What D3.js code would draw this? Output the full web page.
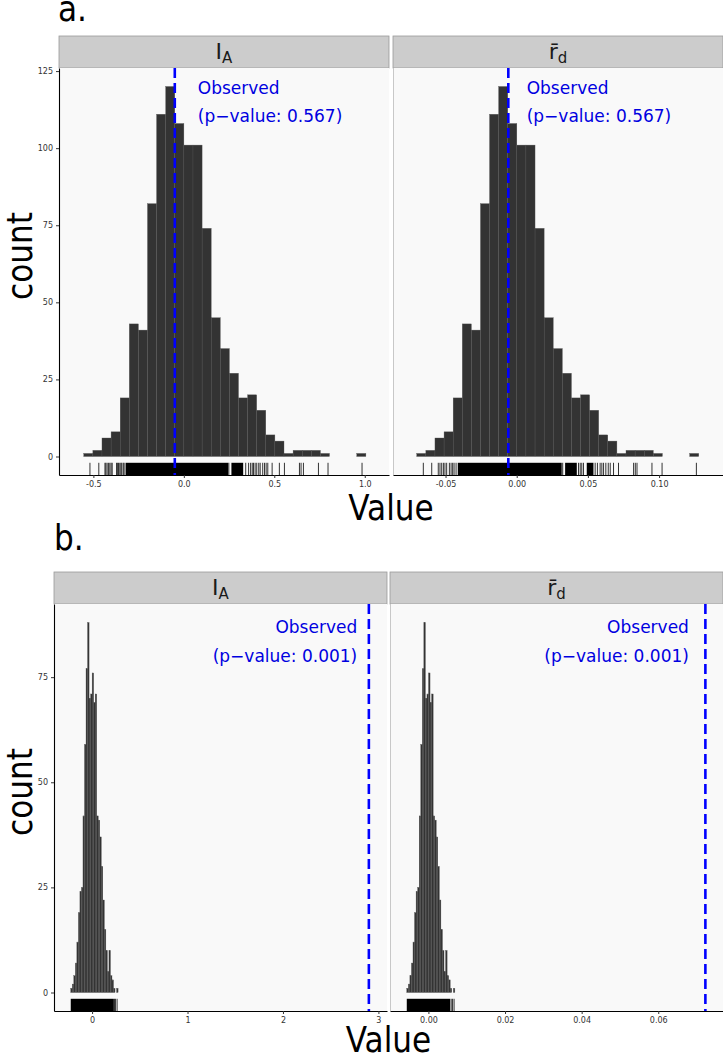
<!DOCTYPE html>
<html><head><meta charset="utf-8">
<script src="https://cdn.jsdelivr.net/npm/d3@7"></script>
<style>body{margin:0;background:#fff}text{font-family:"DejaVu Sans",sans-serif}</style>
</head><body><script>
// ---------------- data ----------------
const facetNames = ["IA", "rd"];
const countTicksA = [0, 25, 50, 75, 100, 125];
const countTicksB = [0, 25, 50, 75];

// panel a (p = 0.567)
const countsA_IA = [1,2,6,8,19,43,41,82,111,120,108,101,101,74,45,35,27,19,20,15,7,5,1,2,2,2,1,0,0,0,1];
const countsA_rd = [1,2,6,8,19,43,41,82,111,120,108,101,101,74,45,35,27,19,20,15,7,5,1,2,2,2,1,0,0,0,1];
const binsA_IA = [-0.553, 0.0503];   // first bin edge, bin width
const binsA_rd = [-0.0702, 0.00639];
const observedA = [-0.05, -0.0059];
const pValueA = "0.567";
const xTicksA_IA = [-0.5, 0.0, 0.5, 1.0];
const xLabelsA_IA = ["-0.5", "0.0", "0.5", "1.0"];
const xTicksA_rd = [-0.05, 0.0, 0.05, 0.10];
const xLabelsA_rd = ["-0.05", "0.00", "0.05", "0.10"];
const rugTicksA_IA = [-0.519,-0.470,-0.436,-0.431,-0.424,-0.416,-0.409,-0.402,-0.396,-0.372,-0.366,-0.361,-0.354,-0.348,-0.343,-0.335,-0.330,
  0.2486,0.342,0.358,0.369,0.378,0.385,0.394,0.403,0.414,0.422,0.436,0.446,0.455,0.464,0.488,0.528,0.556,0.639,0.648,0.661,0.744,0.797,0.985];
const rugRangesA_IA = [[-0.322, 0.245], [0.263, 0.328]];
const rugTicksA_rd = [-0.0656,-0.0597,-0.0551,-0.0539,-0.0527,-0.0515,-0.0504,-0.0492,-0.0473,-0.0461,-0.0450,-0.0440,-0.0426,
  0.0323,0.0434,0.0446,0.0457,0.0469,0.0551,0.0567,0.0586,0.0598,0.0610,0.0626,0.0643,0.0657,0.0680,0.0715,0.0821,0.0833,0.0845,0.0950,0.1021,0.1262];
const rugRangesA_rd = [[-0.0414, 0.0316], [0.0340, 0.0422], [0.0492, 0.0539]];

// panel b (p = 0.001)
const countsB_IA = [1,2,4,7,12,19,24,25,42,59,77,88,70,71,76,69,71,42,41,37,30,22,15,10,5,10,4,3,1,0,1];
const countsB_rd = [1,2,4,7,12,19,24,25,42,59,77,88,70,71,76,69,71,42,41,37,30,22,15,10,5,10,4,3,1,0,1];
const binsB_IA = [-0.2235, 0.016];
const binsB_rd = [-0.00565, 0.000405];
const observedB = [2.90, 0.0723];
const pValueB = "0.001";
const xTicksB_IA = [0, 1, 2, 3];
const xLabelsB_IA = ["0", "1", "2", "3"];
const xTicksB_rd = [0, 0.02, 0.04, 0.06];
const xLabelsB_rd = ["0.00", "0.02", "0.04", "0.06"];
const rugTicksB_IA = [0.235, 0.245, 0.262];
const rugRangesB_IA = [[-0.2235, 0.228]];
const rugTicksB_rd = [0.00594, 0.0063, 0.0067];
const rugRangesB_rd = [[-0.00565, 0.00568]];

// ---------------- layout ----------------
const W = 723, H = 1059;
const svg = d3.select("body").append("svg").attr("width", W).attr("height", H);
const BAR = "#333333", BLUE = "#0000ff";
const BIG = 35, SQ = 0.89;   // large title font and horizontal squeeze

const blocks = [
  { tag: "a.", tagX: 58, tagY: 21, stripTop: 36, top: 68, bottom: 475, yDomain: [-6, 126], yTicks: countTicksA,
    titleY: 520, countY: 256, pval: pValueA, anchor: "start", textY: [94, 122],
    panels: [
      { x0: 59, x1: 389, dom: [-0.69, 1.134], counts: countsA_IA, bins: binsA_IA, obs: observedA[0], ticks: xTicksA_IA, labels: xLabelsA_IA, rugT: rugTicksA_IA, rugR: rugRangesA_IA, textX: 0.077 },
      { x0: 393, x1: 723, dom: [-0.0869, 0.1449], counts: countsA_rd, bins: binsA_rd, obs: observedA[1], ticks: xTicksA_rd, labels: xLabelsA_rd, rugT: rugTicksA_rd, rugR: rugRangesA_rd, textX: 0.0070 }
    ]},
  { tag: "b.", tagX: 54, tagY: 550, stripTop: 572, top: 604, bottom: 1011, yDomain: [-4.4, 92.4], yTicks: countTicksB,
    titleY: 1052, countY: 792, pval: pValueB, anchor: "end", textY: [633, 662],
    panels: [
      { x0: 54, x1: 387, dom: [-0.399, 3.09], counts: countsB_IA, bins: binsB_IA, obs: observedB[0], ticks: xTicksB_IA, labels: xLabelsB_IA, rugT: rugTicksB_IA, rugR: rugRangesB_IA, textX: 2.778 },
      { x0: 390, x1: 723, dom: [-0.01003, 0.0769], counts: countsB_rd, bins: binsB_rd, obs: observedB[1], ticks: xTicksB_rd, labels: xLabelsB_rd, rugT: rugTicksB_rd, rugR: rugRangesB_rd, textX: 0.0680 }
    ]}
];

function stripLabel(g, name, cx, y) {
  const t = g.append("text").attr("x", cx).attr("y", y).attr("text-anchor", "middle")
    .attr("font-size", 22).attr("fill", "#1a1a1a");
  if (name === "IA") {
    t.append("tspan").text("I");
    t.append("tspan").attr("font-size", 15).attr("dy", 4).text("A");
  } else {
    t.append("tspan").text("r\u0304");
    t.append("tspan").attr("font-size", 15).attr("dy", 4).text("d");
  }
}

function bigText(x, y, str, anchor, rotate) {
  const tr = `translate(${x},${y})` + (rotate ? " rotate(-90)" : "") + ` scale(${SQ},1)`;
  svg.append("text").attr("transform", tr).attr("text-anchor", anchor)
    .attr("font-size", BIG).attr("fill", "#000").text(str);
}

blocks.forEach(B => {
  const y = d3.scaleLinear().domain(B.yDomain).range([B.bottom, B.top]);
  const rugLen = (B.bottom - B.top) * 0.03;

  bigText(B.tagX, B.tagY, B.tag, "start", false);

  B.panels.forEach((P, pi) => {
    const x = d3.scaleLinear().domain(P.dom).range([P.x0, P.x1]);
    const g = svg.append("g");
    // strip
    g.append("rect").attr("x", P.x0).attr("y", B.stripTop).attr("width", P.x1 - P.x0).attr("height", B.top - B.stripTop)
      .attr("fill", "#cccccc").attr("stroke", "#9a9a9a").attr("stroke-width", 0.8);
    stripLabel(g, facetNames[pi], (P.x0 + P.x1) / 2, B.top - 9);
    // panel background
    g.append("rect").attr("x", P.x0).attr("y", B.top).attr("width", P.x1 - P.x0).attr("height", B.bottom - B.top)
      .attr("fill", "#f9f9f9");
    // bars
    g.selectAll("rect.bar").data(P.counts.map((c, i) => ({ c, i })).filter(d => d.c > 0)).join("rect")
      .attr("class", "bar")
      .attr("x", d => x(P.bins[0] + d.i * P.bins[1]))
      .attr("width", d => x(P.bins[0] + (d.i + 1) * P.bins[1]) - x(P.bins[0] + d.i * P.bins[1]))
      .attr("y", d => y(d.c)).attr("height", d => y(0) - y(d.c))
      .attr("fill", BAR).attr("stroke", "#555555").attr("stroke-width", 0.35);
    // rug
    g.selectAll("rect.rug").data(P.rugR).join("rect").attr("class", "rug")
      .attr("x", d => x(d[0])).attr("width", d => x(d[1]) - x(d[0]))
      .attr("y", B.bottom - rugLen).attr("height", rugLen).attr("fill", "#000");
    g.selectAll("line.rug").data(P.rugT).join("line").attr("class", "rug")
      .attr("x1", d => x(d)).attr("x2", d => x(d))
      .attr("y1", B.bottom - rugLen).attr("y2", B.bottom)
      .attr("stroke", "#000").attr("stroke-width", 0.8);
    // observed line
    g.append("line").attr("x1", x(P.obs)).attr("x2", x(P.obs)).attr("y1", B.top).attr("y2", B.bottom)
      .attr("stroke", BLUE).attr("stroke-width", 2.6).attr("stroke-dasharray", "10,5");
    // annotation
    const tx = x(P.textX);
    g.append("text").attr("x", tx).attr("y", B.textY[0]).attr("text-anchor", B.anchor)
      .attr("font-size", 17).attr("fill", "#0000e0").text("Observed");
    g.append("text").attr("x", tx).attr("y", B.textY[1]).attr("text-anchor", B.anchor)
      .attr("font-size", 17).attr("fill", "#0000e0").text("(p\u2212value: " + B.pval + ")");
    // x axis
    const ax = g.append("g").attr("transform", `translate(0,${B.bottom})`)
      .call(d3.axisBottom(x).tickValues(P.ticks).tickFormat((d, i) => P.labels[i]).tickSize(3).tickSizeOuter(0));
    ax.select(".domain").attr("stroke", "#000").attr("stroke-width", 1.1);
    ax.selectAll(".tick line").attr("stroke", "#333");
    ax.selectAll(".tick text").attr("font-size", 8).attr("fill", "#333").attr("font-family", "DejaVu Sans").attr("dy", "0.75em");
    // y axis
    if (pi === 0) {
      const ay = g.append("g").attr("transform", `translate(${P.x0},0)`)
        .call(d3.axisLeft(y).tickValues(B.yTicks).tickSize(3).tickSizeOuter(0));
      ay.select(".domain").attr("stroke", "#000").attr("stroke-width", 1.1);
      ay.selectAll(".tick line").attr("stroke", "#333");
      ay.selectAll(".tick text").attr("font-size", 8).attr("fill", "#333").attr("font-family", "DejaVu Sans");
    } else {
      g.append("line").attr("x1", P.x0 + 0.5).attr("x2", P.x0 + 0.5).attr("y1", B.top).attr("y2", B.bottom)
        .attr("stroke", "#bbbbbb").attr("stroke-width", 0.8);
    }
  });

  // axis titles
  const cxTitle = (B.panels[0].x0 + B.panels[1].x1) / 2;
  bigText(cxTitle, B.titleY, "Value", "middle", false);
  bigText(32, B.countY, "count", "middle", true);
});
</script></body></html>
